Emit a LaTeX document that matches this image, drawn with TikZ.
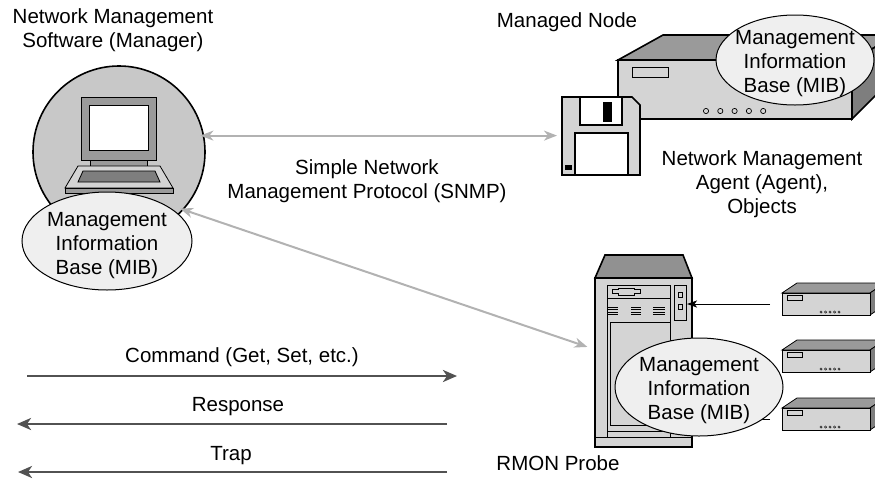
\documentclass[tikz,border=0pt]{standalone}
\usepackage{fontspec}
\setmainfont{Liberation Sans}
\usetikzlibrary{arrows.meta,calc,shapes.geometric}
\definecolor{circgray}{HTML}{C8C8C8}
\definecolor{mibfill}{HTML}{EFEFEF}
\definecolor{facefront}{HTML}{D4D4D4}
\definecolor{facetop}{HTML}{9A9A9A}
\definecolor{faceside}{HTML}{7E7E7E}
\definecolor{snmpgray}{HTML}{B2B2B2}
\definecolor{cmdgray}{HTML}{525252}
\begin{document}
\begin{tikzpicture}[x=1pt,y=-1pt,
  font=\fontsize{20.5}{24}\selectfont,
  every node/.style={inner sep=0pt,outer sep=0pt},
  txt/.style={align=center},
  mib/.style={ellipse,draw=black,line width=1pt,fill=mibfill},
  heavy/.style={draw=black,line width=1.6pt},
  light/.style={draw=black,line width=0.8pt},
  snmp/.style={draw=snmpgray,line width=2pt,
    {Stealth[length=13pt,width=10pt,inset=4pt]}-{Stealth[length=13pt,width=10pt,inset=4pt]}},
  msg/.style={draw=cmdgray,line width=2.5pt,-{Stealth[length=14pt,width=12pt,inset=4pt]}},
  poll/.style={draw=black,line width=1pt,-{Stealth[length=10pt,width=7pt,inset=2.5pt]}}]
\useasboundingbox (0,0) rectangle (875,480);
\clip (0,0) rectangle (875,480);

% ---------------- manager workstation ----------------
\node[txt] (mgrlabel) at (113,30) {Network Management\\Software (Manager)};
\node[circle,draw=black,line width=1.6pt,fill=circgray,minimum size=172pt] (mgr) at (119,152) {};
% laptop
\filldraw[fill=facetop,light] (81,97) rectangle (156,160);
\filldraw[fill=white,light] (89,105) rectangle (148,150);
\filldraw[fill=facetop,light] (90,160) rectangle (147,166);
\filldraw[fill=facefront,light] (78,166) -- (160,166) -- (173,188) -- (65,188) -- cycle;
\filldraw[fill=faceside,light] (83,171) -- (155,171) -- (160,182) -- (78,182) -- cycle;
\filldraw[fill=facetop,light] (65,188) rectangle (173,193);
% manager MIB
\node[mib,minimum width=170pt,minimum height=98pt] (mibL) at (107,241) {};
\node[txt] (mibLtxt) at (107,246) {Management\\Information\\Base (MIB)};

% ---------------- managed node ----------------
\node (agentlabel) at (567,22) {Managed Node};
\filldraw[fill=facetop,heavy] (618,60) -- (663,35) -- (897,35) -- (852,60) -- cycle;
\filldraw[fill=faceside,heavy] (852,60) -- (897,35) -- (897,74) -- (852,119) -- cycle;
\node[draw=black,line width=1.6pt,fill=facefront,minimum width=234pt,minimum height=59pt,anchor=north west] (agent) at (618,60) {};
\filldraw[fill=facefront,light] (632,67) rectangle (668,77);
\foreach \k in {0,...,4} \draw[line width=0.7pt] (706+14.3*\k,111) circle (2.6);
\node[mib,minimum width=158pt,minimum height=90pt] (mibA) at (795,60) {};
\node[txt] (mibAtxt) at (795,64) {Management\\Information\\Base (MIB)};
% floppy disk holding the agent
\node[minimum width=78pt,minimum height=78pt] (floppy) at (601,136) {};
\filldraw[fill=facefront,heavy] (562,97) -- (632,97) -- (640,105) -- (640,175) -- (562,175) -- cycle;
\filldraw[fill=white,heavy] (580,97) rectangle (622,125);
\fill[black] (603,102) rectangle (612,122);
\filldraw[fill=white,heavy] (575,133) rectangle (628,175);
\fill[black] (565,165) rectangle (572,170);
\node[txt] (agenttxt) at (762,184) {Network Management\\Agent (Agent),\\Objects};

% ---------------- RMON probe ----------------
\filldraw[fill=faceside!85!white,heavy] (605,255) -- (683,255) -- (692,278) -- (595,278) -- cycle;
\node[draw=black,line width=1.6pt,fill=facefront,minimum width=97pt,minimum height=169pt,anchor=north west] (probe) at (595,278) {};
\draw[light] (607,285) rectangle (670,437);
\draw[light] (607,298) -- (670,298);
\draw[light] (612,289.5) -- (618,289.5) -- (618,288) -- (634,288) -- (634,289.5) -- (640,289.5)
  -- (640,293.5) -- (634,293.5) -- (634,295) -- (618,295) -- (618,293.5) -- (612,293.5) -- cycle;
\foreach \vx/\vw in {607/11,631/10,653/12}
  \foreach \vy in {307,309.5,312,314.5}
    \draw[line width=0.7pt] (\vx,\vy) -- ++(\vw,0);
\draw[light] (610,322) rectangle (670,425);
\draw[light] (607,431) -- (670,431);
\filldraw[fill=facefront,light] (674,285) rectangle (686,320);
\draw[light] (678,292) rectangle (682,297);
\draw[light] (678,304) rectangle (682,309);
\draw[light] (595,437) -- (692,437);

% polled devices
\foreach \y [count=\i] in {293,350,408}{
  \filldraw[fill=facetop,light] (782,\y) -- ++(15,-10) -- ++(88,0) -- (870,\y) -- cycle;
  \filldraw[fill=faceside,light] (870,\y) -- ++(15,-10) -- ++(0,22) -- (870,\y+22) -- cycle;
  \node[draw=black,line width=0.8pt,fill=facefront,minimum width=88pt,minimum height=22pt,anchor=north west] (dev\i) at (782,\y) {};
  \draw[line width=0.6pt] (787,\y+2) rectangle ++(15,5);
  \foreach \k in {0,...,4} \draw[line width=0.4pt] (821+4.5*\k,\y+19) circle (1.2);
  \draw[poll,shorten <=12pt,shorten >=-5pt] (dev\i.west) -- (dev\i.west -| probe.east);
}
\node[mib,minimum width=168pt,minimum height=98pt] (mibP) at (699,387) {};
\node[txt] (mibPtxt) at (699,391) {Management\\Information\\Base (MIB)};
\node (probelabel) at (558,463) {RMON Probe};

% ---------------- SNMP exchanges ----------------
\draw[snmp,shorten <=-3pt,shorten >=5pt] (mgr.11) -- (mgr.11 -| floppy.west);
\node[txt] (snmptxt) at (367,181) {Simple Network\\Management Protocol (SNMP)};
\draw[snmp,shorten <=-3pt,shorten >=8pt] (mgr.-42) -- (probe.165);

% message types
\coordinate (cmdL) at (27,376);   \coordinate (cmdR) at (457,376);
\coordinate (rspL) at (17,424);   \coordinate (rspR) at (447,424);
\coordinate (trpL) at (18,472);   \coordinate (trpR) at (447,472);
\draw[msg] (cmdL) -- (cmdR);
\node (cmdtxt) at (242,357) {Command (Get, Set, etc.)};
\draw[msg] (rspR) -- (rspL);
\node (rsptxt) at (238,407) {Response};
\draw[msg] (trpR) -- (trpL);
\node (trptxt) at (231,456) {Trap};
\end{tikzpicture}
\end{document}
